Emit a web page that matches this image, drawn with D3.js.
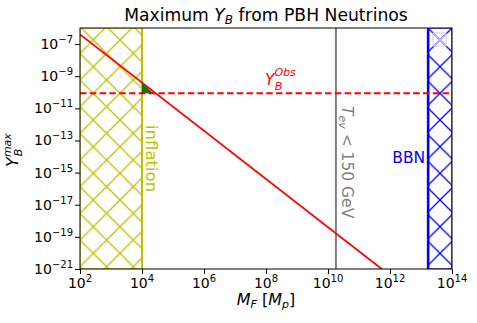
<!DOCTYPE html>
<html>
<head>
<meta charset="utf-8">
<script src="https://cdn.jsdelivr.net/npm/d3@7"></script>
<style>
  body { margin: 0; background: #fff; }
  text { font-family: "DejaVu Sans", sans-serif; }
</style>
</head>
<body>
<div id="chart"></div>
<script>
// ---------- data ----------
var xTickExp = [2, 4, 6, 8, 10, 12, 14];
var yTickExp = [-7, -9, -11, -13, -15, -17, -19, -21];
var lineM = [1e2, 1e14];            // red line end points
var lineY = [4e-7, 4e-25];
var yObs = 8.7e-11;                 // observed Y_B
var inflationM = [1e2, 1e4];        // yellow hatched band
var tevM = 1.8e10;                  // T_ev < 150 GeV line
var bbnM = [1.7e13, 1e14];          // blue hatched band
var greenM = [1e4, 1e4, 2.3e4];     // small green wedge
var greenY = [4e-10, 8.7e-11, 8.7e-11];

// ---------- layout ----------
var W = 477, H = 323;
var margin = { top: 28, right: 25, bottom: 54, left: 80 },
    width = W - margin.left - margin.right,
    height = H - margin.top - margin.bottom;

var svg = d3.select("#chart").append("svg")
    .attr("width", W).attr("height", H);

var defs = svg.append("defs");
defs.append("clipPath").attr("id", "clip")
    .append("rect").attr("width", width).attr("height", height);

// matplotlib-like 'x' hatch
function hatch(id, color, w) {
    var s = 26.67;
    var p = defs.append("pattern").attr("id", id)
        .attr("patternUnits", "userSpaceOnUse")
        .attr("width", s).attr("height", s)
        .attr("x", 13.3).attr("y", 12);
    p.append("path")
        .attr("d", "M-2,-2L" + (s + 2) + "," + (s + 2) + "M-2," + (s + 2) + "L" + (s + 2) + ",-2")
        .attr("stroke", color).attr("stroke-width", w).attr("fill", "none");
}
hatch("hatchY", "#bfbf00", 1.3);
hatch("hatchB", "#0000ff", 1.3);
hatch("hatchG", "#d8d8e8", 1.0);

var g = svg.append("g")
    .attr("transform", "translate(" + margin.left + "," + margin.top + ")");

var x = d3.scaleLog().domain([1e2, 1e14]).range([0, width]);
var y = d3.scaleLog().domain([1e-21, 1e-6]).range([height, 0]);

var plot = g.append("g").attr("clip-path", "url(#clip)");

// hatched bands
plot.append("rect")
    .attr("x", x(inflationM[0])).attr("y", 0)
    .attr("width", x(inflationM[1]) - x(inflationM[0])).attr("height", height)
    .attr("fill", "url(#hatchY)").attr("stroke", "#bfbf00").attr("stroke-width", 1.2);
plot.append("line")
    .attr("x1", x(inflationM[1])).attr("x2", x(inflationM[1]))
    .attr("y1", 0).attr("y2", height)
    .attr("stroke", "#bfbf00").attr("stroke-width", 2);

plot.append("rect")
    .attr("x", x(bbnM[0])).attr("y", 0)
    .attr("width", x(bbnM[1]) - x(bbnM[0])).attr("height", height)
    .attr("fill", "url(#hatchB)").attr("stroke", "#0000ff").attr("stroke-width", 1.2);
plot.append("line")
    .attr("x1", x(bbnM[0])).attr("x2", x(bbnM[0]))
    .attr("y1", 0).attr("y2", height)
    .attr("stroke", "#0000ff").attr("stroke-width", 2.6);

// faint empty box in the corner
plot.append("rect")
    .attr("x", width - 19).attr("y", 5).attr("width", 13).attr("height", 13)
    .attr("fill", "url(#hatchG)").attr("stroke", "#d0d0d0").attr("stroke-width", 1);

// T_ev line
plot.append("line")
    .attr("x1", x(tevM)).attr("x2", x(tevM)).attr("y1", 0).attr("y2", height)
    .attr("stroke", "#808080").attr("stroke-width", 2);

// green wedge
plot.append("path")
    .datum(d3.range(greenM.length))
    .attr("d", d3.line().x(i => x(greenM[i])).y(i => y(greenY[i])))
    .attr("fill", "#008000");

// observed value
plot.append("line")
    .attr("x1", 0).attr("x2", width).attr("y1", y(yObs)).attr("y2", y(yObs))
    .attr("stroke", "#ff0000").attr("stroke-width", 1.8)
    .attr("stroke-dasharray", "6.5,3.3");

// max Y_B line
plot.append("path")
    .datum(d3.range(lineM.length))
    .attr("d", d3.line().x(i => x(lineM[i])).y(i => y(lineY[i])))
    .attr("fill", "none").attr("stroke", "#ff0000").attr("stroke-width", 1.8);

// ---------- axes ----------
var xAxis = g.append("g").attr("transform", "translate(0," + height + ")")
    .call(d3.axisBottom(x).tickValues(xTickExp.map(e => Math.pow(10, e)))
        .tickSize(5).tickFormat(""));
var yAxis = g.append("g")
    .call(d3.axisLeft(y).tickValues(yTickExp.map(e => Math.pow(10, e)))
        .tickSize(5).tickFormat(""));
[xAxis, yAxis].forEach(function (a) {
    a.select(".domain").remove();
    a.selectAll(".tick line").attr("stroke", "#000").attr("stroke-width", 1);
});

g.append("rect").attr("width", width).attr("height", height)
    .attr("fill", "none").attr("stroke", "#000").attr("stroke-width", 1);

function pow10(sel, e) {
    sel.append("tspan").text("10");
    sel.append("tspan").attr("dy", -6).attr("font-size", 10)
        .text(String(e).replace("-", "\u2212"));
}

xTickExp.forEach(function (e) {
    var t = g.append("text")
        .attr("x", x(Math.pow(10, e))).attr("y", height + 19)
        .attr("text-anchor", "middle").attr("font-size", 14).attr("fill", "#000");
    pow10(t, e);
});
yTickExp.forEach(function (e) {
    var t = g.append("text")
        .attr("x", -7).attr("y", y(Math.pow(10, e)) + 5)
        .attr("text-anchor", "end").attr("font-size", 14).attr("fill", "#000");
    pow10(t, e);
});

// ---------- labels ----------
svg.append("text")
    .attr("x", margin.left + width / 2).attr("y", 21)
    .attr("text-anchor", "middle").attr("font-size", 17.2)
    .call(function (t) {
        t.append("tspan").text("Maximum ");
        t.append("tspan").attr("font-style", "italic").text("Y");
        t.append("tspan").attr("font-size", 12).attr("font-style", "italic").attr("dy", 3).text("B");
        t.append("tspan").attr("dy", -3).text(" from PBH Neutrinos");
    });

svg.append("text")
    .attr("x", margin.left + width / 2).attr("y", 305)
    .attr("text-anchor", "middle").attr("font-size", 16)
    .call(function (t) {
        t.append("tspan").attr("font-style", "italic").text("M");
        t.append("tspan").attr("font-style", "italic").attr("font-size", 11).attr("dy", 3).text("F");
        t.append("tspan").attr("dy", -3).text(" [");
        t.append("tspan").attr("font-style", "italic").text("M");
        t.append("tspan").attr("font-style", "italic").attr("font-size", 11).attr("dy", 3).text("p");
        t.append("tspan").attr("dy", -3).text("]");
    });

svg.append("text")
    .attr("transform", "translate(18,150) rotate(-90)")
    .attr("text-anchor", "middle").attr("font-size", 16)
    .call(function (t) {
        t.append("tspan").attr("font-style", "italic").text("Y");
        t.append("tspan").attr("font-style", "italic").attr("font-size", 11).attr("dy", -7).text("max");
        t.append("tspan").attr("font-style", "italic").attr("font-size", 11)
            .attr("dx", -23).attr("dy", 11).text("B");
    });

// Y_B^Obs label
svg.append("text")
    .attr("x", 265).attr("y", 85).attr("fill", "#ff0000").attr("font-size", 15.5)
    .call(function (t) {
        t.append("tspan").attr("font-style", "italic").text("Y");
        t.append("tspan").attr("font-style", "italic").attr("font-size", 11).attr("dy", -9).text("Obs");
        t.append("tspan").attr("font-style", "italic").attr("font-size", 11)
            .attr("dx", -21).attr("dy", 14).text("B");
    });

// inflation label
svg.append("text")
    .attr("transform", "translate(" + (margin.left + x(inflationM[1]) + 4) + ",125) rotate(90)")
    .attr("fill", "#bfbf00").attr("font-size", 16.5).text("inflation");

// T_ev label
svg.append("text")
    .attr("transform", "translate(" + (margin.left + x(tevM) + 6) + ",106) rotate(90)")
    .attr("fill", "#808080").attr("font-size", 15.5)
    .call(function (t) {
        t.append("tspan").attr("font-style", "italic").text("T");
        t.append("tspan").attr("font-style", "italic").attr("font-size", 11).attr("dy", 3).text("ev");
        t.append("tspan").attr("dy", -3).text(" < 150 GeV");
    });

// BBN label
svg.append("text")
    .attr("x", margin.left + x(bbnM[0]) - 3).attr("y", 163)
    .attr("text-anchor", "end").attr("fill", "#0000ff").attr("font-size", 15.5)
    .text("BBN");
</script>
</body>
</html>
